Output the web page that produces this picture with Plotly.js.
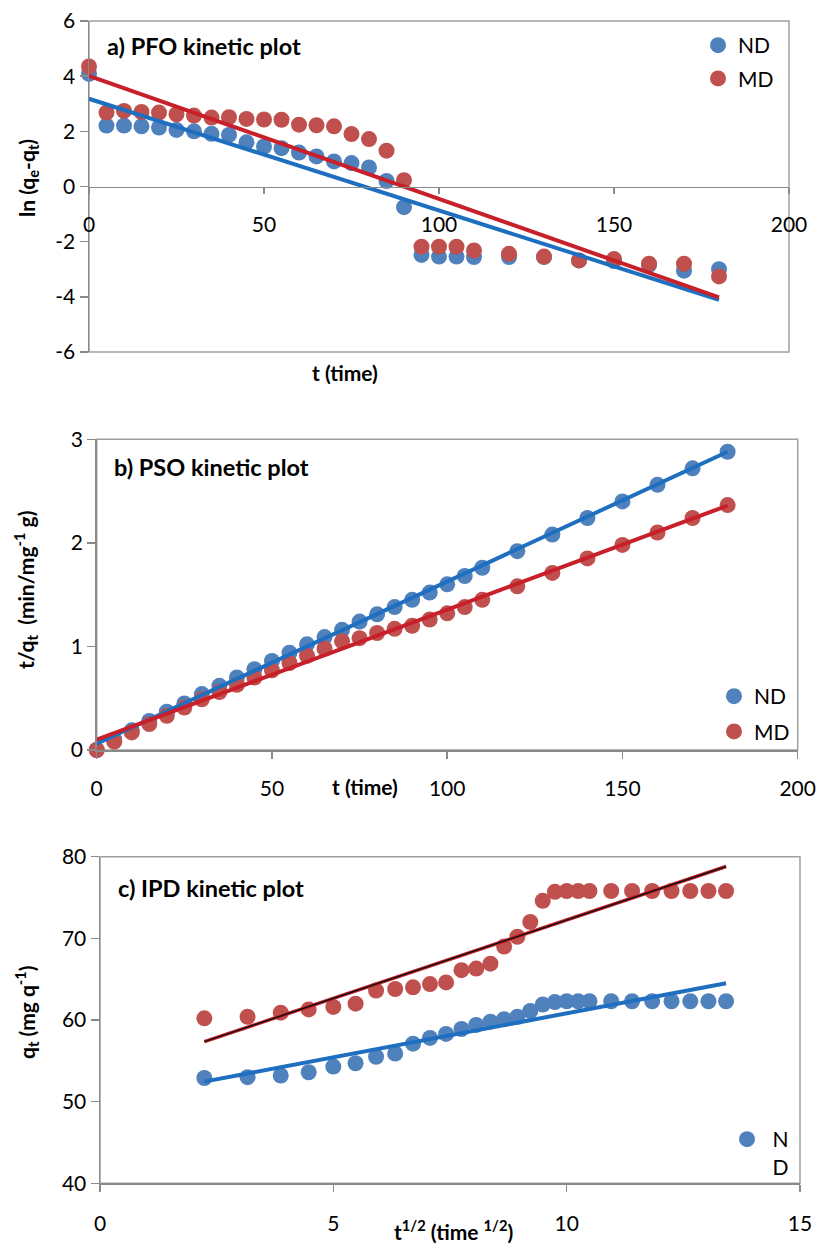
<!DOCTYPE html>
<html>
<head>
<meta charset="utf-8">
<script src="https://cdn.plot.ly/plotly-3.0.1.min.js"></script>
<style>
  html, body { margin: 0; padding: 0; background: #ffffff; }
  #chart { width: 818px; height: 1248px; }
</style>
</head>
<body>
<div id="chart"></div>
<script>
// ---------- data ----------
// sampling times (min)
const time = [0,5,10,15,20,25,30,35,40,45,50,55,60,65,70,75,80,85,90,95,100,105,110,120,130,140,150,160,170,180];

// a) PFO: ln(qe - qt)
const pfoND = [4.08,2.21,2.21,2.18,2.14,2.05,2.00,1.91,1.87,1.60,1.45,1.39,1.23,1.09,0.91,0.85,0.69,0.20,-0.75,-2.48,-2.54,-2.54,-2.56,-2.56,-2.56,-2.68,-2.70,-2.85,-3.05,-3.00];
const pfoMD = [4.35,2.68,2.74,2.70,2.68,2.62,2.57,2.50,2.51,2.45,2.43,2.42,2.24,2.22,2.18,1.90,1.72,1.30,0.23,-2.18,-2.18,-2.18,-2.32,-2.44,-2.54,-2.68,-2.63,-2.80,-2.80,-3.26];
const pfoFitX  = [0, 180];
const pfoFitND = [3.18, -4.11];
const pfoFitMD = [4.01, -4.02];
const pfoYTicks = [-6, -4, -2, 0, 2, 4, 6];
const pfoYLabels = ['-6', '-4', '-2', '0', '2', '4', '6'];

// b) PSO: t/qt
const psoND = [0.00,0.10,0.19,0.28,0.37,0.45,0.54,0.62,0.70,0.78,0.86,0.94,1.02,1.09,1.16,1.24,1.31,1.38,1.45,1.52,1.60,1.68,1.76,1.92,2.08,2.24,2.40,2.56,2.72,2.88];
const psoMD = [0.00,0.08,0.17,0.25,0.33,0.41,0.49,0.56,0.63,0.70,0.77,0.84,0.91,0.98,1.05,1.08,1.13,1.17,1.20,1.26,1.32,1.38,1.45,1.58,1.71,1.85,1.98,2.10,2.24,2.365];
const psoFitX  = [0, 180];
const psoFitND = [0.06, 2.88];
const psoFitMD = [0.10, 2.36];

// c) IPD: qt versus t^1/2
const sqrtT = [2.236,3.162,3.873,4.472,5.000,5.477,5.916,6.325,6.708,7.071,7.416,7.746,8.062,8.367,8.660,8.944,9.220,9.487,9.747,10.000,10.247,10.488,10.954,11.402,11.832,12.247,12.649,13.038,13.416];
const ipdND = [52.9,53.0,53.2,53.6,54.3,54.7,55.5,55.9,57.1,57.8,58.3,58.9,59.4,59.8,60.1,60.4,61.1,61.9,62.2,62.3,62.3,62.3,62.3,62.3,62.3,62.3,62.3,62.3,62.3];
const ipdMD = [60.2,60.4,60.9,61.3,61.6,62.0,63.6,63.8,64.0,64.4,64.6,66.1,66.3,66.9,69.0,70.2,72.0,74.6,75.7,75.8,75.8,75.8,75.8,75.8,75.8,75.8,75.8,75.8,75.8];
const ipdFitX  = [2.236, 13.416];
const ipdFitND = [52.45, 64.5];
const ipdFitMD = [57.35, 78.8];

const seriesNames = ['ND', 'MD'];
const panelTitles = ['a) PFO kinetic plot', 'b) PSO kinetic plot', 'c) IPD kinetic plot'];

// ---------- styling ----------
const W = 818, H = 1248;
const px = v => v / W;
const py = v => 1 - v / H;
const FONT = 'Lato, "Open Sans", sans-serif';
const BLUE_M = '#4F81BD', RED_M = '#C0504D';
const BLUE_L = '#1F6FC0', RED_L = '#C8202A';
const AX = '#8a8a8a';
const MS = 16;

function markers(x, y, name, color, xa, ya, legend, showlegend) {
  return { type: 'scatter', mode: 'markers', x: x, y: y, name: name,
    xaxis: xa, yaxis: ya, legend: legend, showlegend: showlegend,
    legendgroup: name + legend, cliponaxis: false,
    marker: { size: MS, color: color } };
}
function fit(x, y, color, width, xa, ya) {
  return { type: 'scatter', mode: 'lines', x: x, y: y, xaxis: xa, yaxis: ya,
    showlegend: false, hoverinfo: 'skip', line: { color: color, width: width } };
}

const traces = [
  markers(time, pfoND, seriesNames[0], BLUE_M, 'x', 'y', 'legend', true),
  markers(time, pfoMD, seriesNames[1], RED_M, 'x', 'y', 'legend', true),
  fit(pfoFitX, pfoFitND, BLUE_L, 4, 'x', 'y'),
  fit(pfoFitX, pfoFitMD, RED_L, 4, 'x', 'y'),

  markers(time, psoND, seriesNames[0], BLUE_M, 'x2', 'y2', 'legend2', true),
  markers(time, psoMD, seriesNames[1], RED_M, 'x2', 'y2', 'legend2', true),
  fit(psoFitX, psoFitND, BLUE_L, 4, 'x2', 'y2'),
  fit(psoFitX, psoFitMD, RED_L, 4, 'x2', 'y2'),

  Object.assign(markers(sqrtT, ipdND, seriesNames[0], BLUE_M, 'x3', 'y3', 'legend3', true),
    { name: '\u00a0N<br>\u00a0D' }),
  markers(sqrtT, ipdMD, seriesNames[1], RED_M, 'x3', 'y3', 'legend3', false),
  fit(ipdFitX, ipdFitND, BLUE_L, 4, 'x3', 'y3'),
  fit(ipdFitX, ipdFitMD, RED_L, 3.5, 'x3', 'y3'),
  fit(ipdFitX, ipdFitMD, '#111111', 1.5, 'x3', 'y3')
];

const tickfont = { family: FONT, size: 21, color: '#000000' };
function axisBase(extra) {
  return Object.assign({ showgrid: false, zeroline: false, showline: true,
    linecolor: AX, linewidth: 1.5, ticks: 'outside', tickcolor: AX,
    tickwidth: 1.5, ticklen: 7, tickfont: tickfont, fixedrange: true }, extra);
}

const domA = { x: [px(89), px(789)], y: [py(352), py(21)] };
const domB = { x: [px(96.7), px(797.7)], y: [py(750), py(439.3)] };
const domC = { x: [px(100), px(800)], y: [py(1183.3), py(856.7)] };

function frame(xr, yr) {
  return { type: 'rect', xref: xr + ' domain', yref: yr + ' domain',
    x0: 0, x1: 1, y0: 0, y1: 1, layer: 'below',
    line: { color: '#a0a0a0', width: 1.5 } };
}
function label(text, x, y, opts) {
  return Object.assign({ text: text, xref: 'paper', yref: 'paper', x: px(x), y: py(y),
    showarrow: false, xanchor: 'center', yanchor: 'middle',
    font: { family: FONT, size: 21, color: '#000000', weight: 'bold' } }, opts || {});
}

const titleFont = { family: FONT, size: 23.5, color: '#000000', weight: 'bold' };
const legendFont = { family: FONT, size: 21, color: '#000000' };

const layout = {
  width: W, height: H,
  margin: { l: 0, r: 0, t: 0, b: 0 },
  paper_bgcolor: '#ffffff', plot_bgcolor: 'rgba(0,0,0,0)',
  font: { family: FONT },
  showlegend: true,
  xaxis: axisBase({ domain: domA.x, range: [0, 200], tickvals: [0, 50, 100, 150, 200],
    anchor: 'free', position: (domA.y[0] + domA.y[1]) / 2, ticklen: 6, ticklabelstandoff: 13 }),
  yaxis: axisBase({ domain: domA.y, range: [-6, 6], tickvals: pfoYTicks, ticktext: pfoYLabels,
    anchor: 'x', ticklen: 8 }),
  xaxis2: axisBase({ domain: domB.x, range: [0, 200], tickvals: [0, 50, 100, 150, 200],
    anchor: 'y2', ticklabelstandoff: 12 }),
  yaxis2: axisBase({ domain: domB.y, range: [0, 3], dtick: 1, anchor: 'x2', ticklen: 8 }),
  xaxis3: axisBase({ domain: domC.x, range: [0, 15], tickvals: [0, 5, 10, 15],
    anchor: 'y3', ticklabelstandoff: 14 }),
  yaxis3: axisBase({ domain: domC.y, range: [40, 80], dtick: 10, anchor: 'x3', ticklen: 8 }),
  legend: { x: px(698), y: py(25), xanchor: 'left', yanchor: 'top', bgcolor: 'rgba(0,0,0,0)',
    font: legendFont, tracegroupgap: 3 },
  legend2: { x: px(714), y: py(676), xanchor: 'left', yanchor: 'top', bgcolor: 'rgba(0,0,0,0)',
    font: legendFont, tracegroupgap: 5 },
  legend3: { x: px(727), y: py(1119), xanchor: 'left', yanchor: 'top', bgcolor: 'rgba(0,0,0,0)',
    font: legendFont, valign: 'top' },
  shapes: [frame('x', 'y'), frame('x2', 'y2'), frame('x3', 'y3')],
  annotations: [
    label(panelTitles[0], 105, 46, { xanchor: 'left', font: titleFont }),
    label(panelTitles[1], 112, 467, { xanchor: 'left', font: titleFont }),
    label(panelTitles[2], 116, 888, { xanchor: 'left', font: titleFont }),
    label('t (time)', 345, 373),
    label('t (time)', 365, 786),
    label('t<sup>1/2</sup> (time <sup>1/2</sup>)', 454, 1230),
    label('ln (q<sub>e</sub>-q<sub>t</sub>)', 28, 178, { textangle: -90 }),
    label('t/q<sub>t</sub>  (min/mg<sup>-1</sup> g)', 25, 590, { textangle: -90 }),
    label('q<sub>t</sub> (mg q<sup>-1</sup>)', 26, 1012, { textangle: -90 })
  ]
};

Plotly.newPlot('chart', traces, layout, { displayModeBar: false, staticPlot: true });
</script>
</body>
</html>
